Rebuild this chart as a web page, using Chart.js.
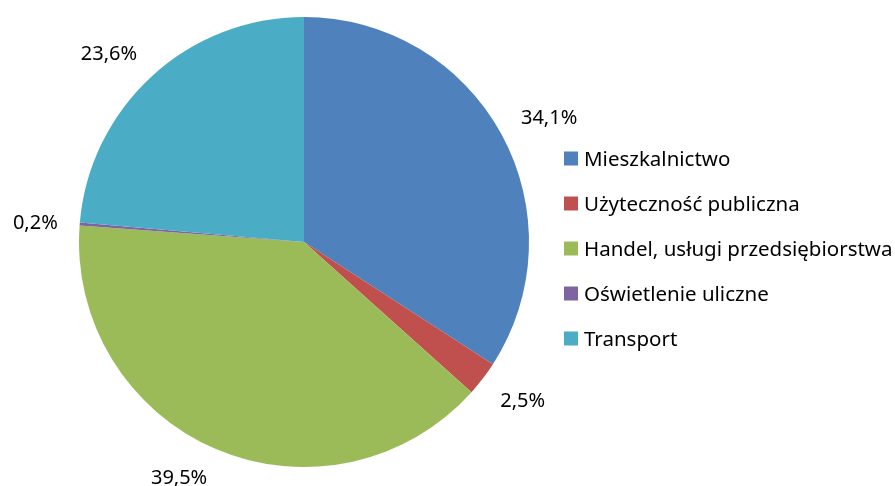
<!DOCTYPE html>
<html>
<head>
<meta charset="utf-8">
<script src="https://cdn.jsdelivr.net/npm/chart.js@4"></script>
<style>
    html, body { margin: 0; padding: 0; background: #fff; }
    #wrap { width: 895px; height: 486px; }
</style>
</head>
<body>
<div id="wrap"><canvas id="energyChart" width="895" height="486"></canvas></div>
<script>
// Energy use by sector (%)
const sectors = ['Mieszkalnictwo', 'Użyteczność publiczna', 'Handel, usługi przedsiębiorstwa', 'Oświetlenie uliczne', 'Transport'];
const shares = [34.1, 2.5, 39.5, 0.2, 23.6];
const sliceColors = ['#4F81BD', '#C0504D', '#9BBB59', '#8064A2', '#4BACC6'];

const FONT = '20px "Noto Sans", "Open Sans", sans-serif';
const LEGEND_FONT = '20.5px "Noto Sans", "Open Sans", sans-serif';

function formatPct(v) {
    return v.toFixed(1).replace('.', ',') + '%';
}

// Percentage labels outside each slice; the text box is pushed
// away from a ring just beyond the pie edge
const outsideLabels = {
    id: 'outsideLabels',
    afterDatasetsDraw(chart) {
        const ctx = chart.ctx;
        const meta = chart.getDatasetMeta(0);
        const h = 15;
        ctx.save();
        ctx.font = FONT;
        ctx.fillStyle = '#000';
        ctx.textAlign = 'center';
        ctx.textBaseline = 'alphabetic';
        meta.data.forEach((arc, i) => {
            const mid = (arc.startAngle + arc.endAngle) / 2;
            const r = arc.outerRadius + 22;
            const dx = Math.cos(mid), dy = Math.sin(mid);
            const text = formatPct(chart.data.datasets[0].data[i]);
            const w = ctx.measureText(text).width;
            const ky = Math.max(-1, Math.min(1, dy * 2));
            const cx = arc.x + dx * r + Math.sign(dx) * w / 2;
            const cy = arc.y + dy * r + ky * h / 2;
            ctx.fillText(text, cx, cy + h / 2);
        });
        ctx.restore();
    }
};

// Legend column to the right of the pie
const sideLegend = {
    id: 'sideLegend',
    afterDraw(chart) {
        const ctx = chart.ctx;
        const left = chart.chartArea.right + 35;
        const top = 158.5;
        const step = 45;
        ctx.save();
        ctx.font = LEGEND_FONT;
        ctx.textBaseline = 'alphabetic';
        chart.data.labels.forEach((label, i) => {
            const y = top + i * step;
            ctx.fillStyle = sliceColors[i];
            ctx.fillRect(left, y - 7, 14, 14);
            ctx.fillStyle = '#000';
            ctx.fillText(label, left + 20, y + 7);
        });
        ctx.restore();
    }
};

new Chart(document.getElementById('energyChart'), {
    type: 'pie',
    data: {
        labels: sectors,
        datasets: [{
            data: shares,
            backgroundColor: sliceColors,
            borderWidth: 0
        }]
    },
    options: {
        responsive: false,
        animation: false,
        layout: {
            padding: { left: 79, top: 17, bottom: 19, right: 366 }
        },
        plugins: {
            legend: { display: false },
            tooltip: { enabled: false }
        }
    },
    plugins: [outsideLabels, sideLegend]
});
</script>
</body>
</html>
